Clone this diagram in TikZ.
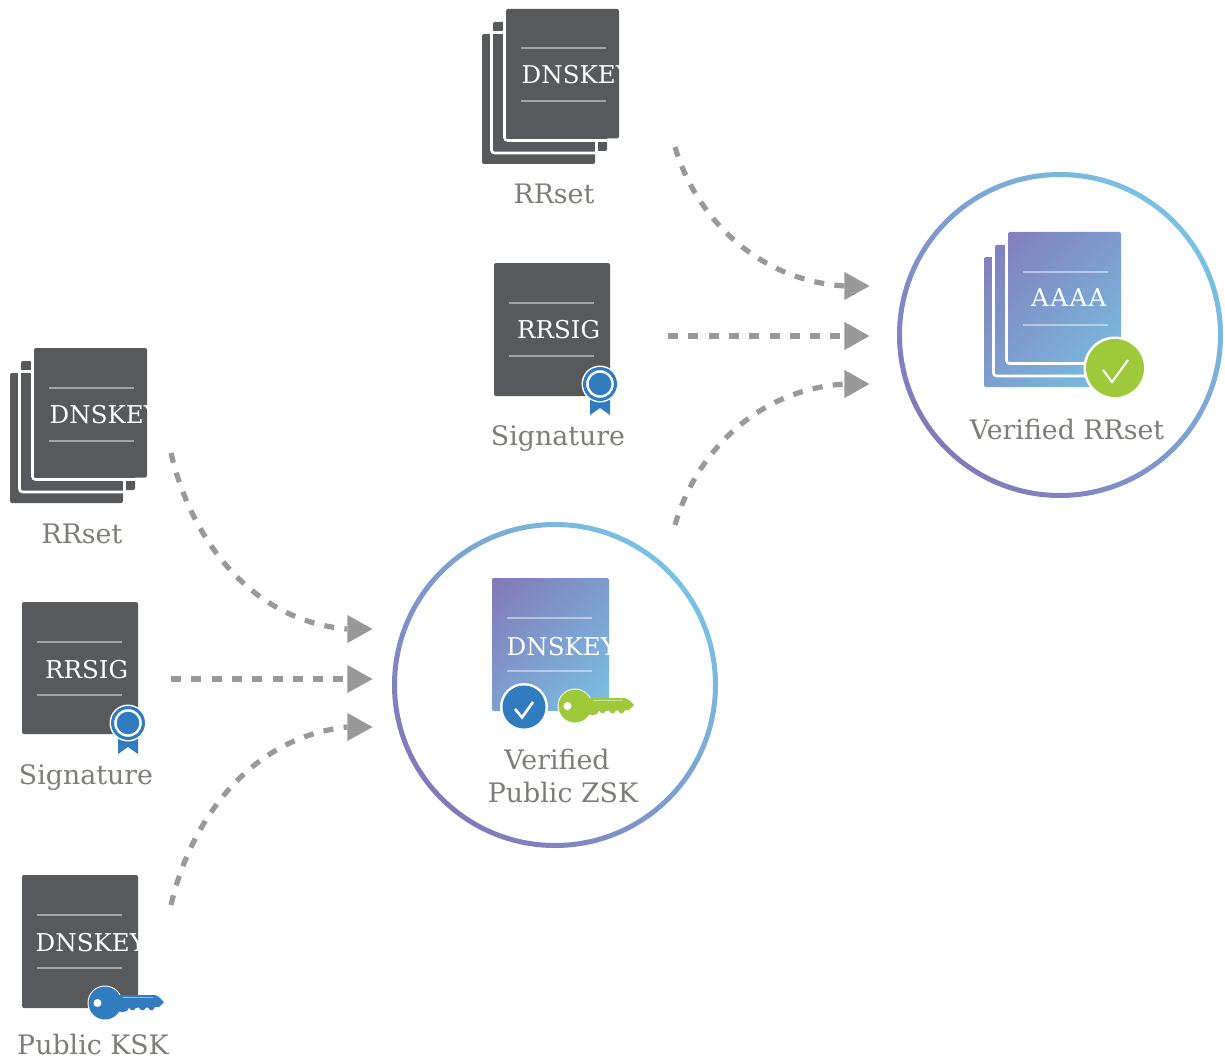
\documentclass[tikz,border=0pt]{standalone}
\usepackage{fontspec}
\setmainfont{DejaVu Serif}
\usetikzlibrary{shapes.geometric}
\definecolor{darkdoc}{HTML}{58595B}
\definecolor{gradA}{HTML}{8279B9}
\definecolor{gradB}{HTML}{79C2E3}
\definecolor{badgeblue}{HTML}{317BBF}
\definecolor{keygreen}{HTML}{9DC93B}
\definecolor{labelgray}{HTML}{7C7C78}
\definecolor{flowgray}{HTML}{999999}
\pgfdeclareverticalshading{docaxis}{100bp}{color(0bp)=(gradB); color(14.6bp)=(gradB); color(85.4bp)=(gradA); color(100bp)=(gradA)}
\tikzset{
  x=1pt,y=-1pt,
  labeltext/.style={text=labelgray,font=\fontsize{26.8}{33}\selectfont,inner sep=0pt,anchor=base},
  doctext/.style={text=white,font=\fontsize{24.5}{28}\selectfont,inner sep=0pt,anchor=base west},
  docrule/.style={draw=white,draw opacity=.45,line width=2pt},
  gapline/.style={draw=white,line width=2.6pt,rounded corners=3pt},
  darkfill/.style={fill=darkdoc},
  docgrad/.style={shading=docaxis,shading angle=45},
  ringgrad/.style={top color=gradB,bottom color=gradA,shading angle=-45},
  flow/.style={draw=flowgray,line width=5.2pt,dash pattern=on 10pt off 10.3pt},
  tip/.style={isosceles triangle,isosceles triangle stretches,fill=flowgray,inner sep=0pt,minimum width=28pt,minimum height=25pt,anchor=apex},
}
% name, x, y, width, height, text x, text baseline, text
\newcommand{\doclabel}[8]{%
  \draw[docrule] (#2+14.5,#3+39.5) -- (#2+99.5,#3+39.5);
  \draw[docrule] (#2+14.5,#3+92.5) -- (#2+99.5,#3+92.5);
  \begin{scope}
    \clip (#2,#3) rectangle (#2+#4,#3+#5);
    \node[doctext] (#1) at (#2+#6,#3+#7) {#8};
  \end{scope}}
% style, x and y of the front sheet
\newcommand{\stackshape}[3]{%
  \path[#1,rounded corners=2pt] (#2-24,#3+25) rectangle (#2+89,#3+155)
  (#2-13,#3+13) rectangle (#2+101,#3+142)
  (#2,#3) rectangle (#2+113,#3+129.5);}
\newcommand{\stacklines}[2]{%
  \draw[gapline] (#1-1.5,#2-1) -- (#1-1.5,#2+131.5) -- (#1+114,#2+131.5);
  \draw[gapline] (#1-14.5,#2+14) -- (#1-14.5,#2+144) -- (#1+89.5,#2+144);}
\newcommand{\stackextras}[2]{%
  \draw[white,line width=2.6pt] (#1-14,#2+23.5) -- (#1,#2+23.5);
  \draw[white,line width=2.6pt] (#1+90.5,#2+130) -- (#1+90.5,#2+143);}
\newcommand{\ribbon}[2]{%
  \begin{scope}[shift={(#1,#2)}]
    \fill[badgeblue] (-10,10) -- (-10,31) -- (0,24) -- (10,31) -- (10,10) -- cycle;
    \fill[white] (0,0) circle[radius=18.5pt];
    \fill[badgeblue] (0,0) circle[radius=17pt];
    \fill[white] (0,0) circle[radius=13.8pt];
    \fill[badgeblue] (0,0) circle[radius=11.3pt];
  \end{scope}}
\newcommand{\keyat}[3]{%
  \begin{scope}[shift={(#1,#2)}]
    \fill[white] (0,0) circle[radius=17.5pt];
    \fill[#3] (0,0) circle[radius=16.5pt];
    \fill[#3] (10,-8) -- (50,-8) -- (54,-6) -- (59,-1) -- (54,4) -- (50,4) -- (48,7) -- (45,7) -- (43,4.5) -- (41,4.5) -- (39,7) -- (36,7) -- (34,4.5) -- (31,4.5) -- (29,7) -- (26,7) -- (24,4.5) -- (22,8) -- (18,9) -- (10,8) -- cycle;
    \draw[white,opacity=.5,line width=1.4pt] (18,-5.5) -- (48,-5.5);
    \fill[white] (-7.5,0) circle[radius=4pt];
  \end{scope}}
\begin{document}
\begin{tikzpicture}
\useasboundingbox (0,0) rectangle (1225,1059);
\fill[white] (0,0) rectangle (1225,1059);

% rings
\shade[ringgrad,even odd rule] (1060,335) circle[radius=163pt] (1060,335) circle[radius=158pt];
\shade[ringgrad,even odd rule] (555,685) circle[radius=163pt] (555,685) circle[radius=158pt];

% top dark stack
\stackshape{darkfill}{506}{9}
\stacklines{506}{9}
\stackextras{506}{9}
\doclabel{dnskeyA}{506}{9}{113}{129}{15.5}{75}{DNSKEY}
\node[labeltext] (rrsetA) at (554,204) {RRset};

% top signature doc
\fill[darkdoc,rounded corners=2pt] (494,263) rectangle (610,396);
\doclabel{rrsigA}{494}{263}{116}{133}{23}{75}{RRSIG}
\ribbon{600}{384}
\node[labeltext] (sigA) at (558,445) {Signature};

% left dark stack
\stackshape{darkfill}{34}{348}
\stacklines{34}{348}
\stackextras{34}{348}
\doclabel{dnskeyB}{34}{348}{113}{129}{15.5}{75}{DNSKEY}
\node[labeltext] (rrsetB) at (82,543) {RRset};

% left signature doc
\fill[darkdoc,rounded corners=2pt] (22,602) rectangle (138,734);
\doclabel{rrsigB}{22}{602}{116}{132}{23}{76}{RRSIG}
\ribbon{128}{723}
\node[labeltext] (sigB) at (86,784) {Signature};

% KSK doc
\fill[darkdoc,rounded corners=2pt] (22,875) rectangle (138,1008);
\doclabel{dnskeyC}{22}{875}{116}{133}{13.5}{76}{DNSKEY}
\keyat{105}{1003}{badgeblue}
\node[labeltext] (ksk) at (93,1054) {Public KSK};

% verified ZSK
\shade[docgrad,rounded corners=2pt] (492,578) rectangle (609,711);
\doclabel{dnskeyD}{492}{578}{117}{133}{14.5}{77}{DNSKEY}
\fill[white] (524,707) circle[radius=24pt];
\fill[badgeblue] (524,707) circle[radius=21.5pt];
\draw[white,line width=2.6pt] (515,709) -- (522,717.5) -- (533,702);
\keyat{575}{706}{keygreen}
\node[labeltext] (zskA) at (557,769) {Verified};
\node[labeltext] (zskB) at (563,802) {Public ZSK};

% verified RRset
\stackshape{docgrad}{1008}{232}
\stacklines{1008}{232}
\doclabel{aaaa}{1008}{232}{113}{131}{23}{74}{\addfontfeature{LetterSpace=6}AAAA}
\fill[white] (1115,368) circle[radius=31.5pt];
\fill[keygreen] (1115,368) circle[radius=29pt];
\draw[white,line width=2pt] (1103,370) -- (1112,382) -- (1128,360);
\node[labeltext] (rrsetV) at (1067,439) {Verified RRset};

% connector ends
\coordinate (s1) at (675,147);
\coordinate (s2) at (668,336);
\coordinate (s3) at (675,525);
\coordinate (s4) at (171,453);
\coordinate (s5) at (171,679);
\coordinate (s6) at (171,905);
\node[tip] (t1) at (870,286) {};
\node[tip] (t2) at (870,336) {};
\node[tip] (t3) at (870,384) {};
\node[tip] (t4) at (373,629) {};
\node[tip] (t5) at (373,679) {};
\node[tip] (t6) at (373,727) {};
\draw[flow] (s1) .. controls (695,215) and (755,280) .. (t1.west);
\draw[flow] (s2) -- (t2.west);
\draw[flow] (s3) .. controls (695,455) and (755,390) .. (t3.west);
\draw[flow] (s4) .. controls (191,539) and (251,621) .. (t4.west);
\draw[flow] (s5) -- (t5.west);
\draw[flow] (s6) .. controls (191,819) and (251,737) .. (t6.west);
\end{tikzpicture}
\end{document}
